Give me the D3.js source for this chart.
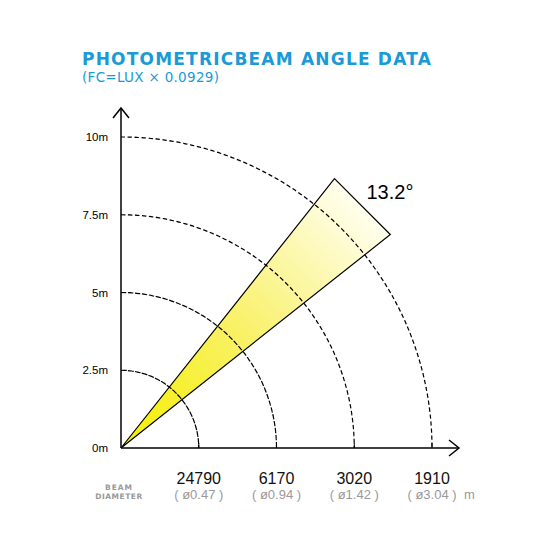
<!DOCTYPE html><html><head><meta charset="utf-8"><script src="https://cdn.jsdelivr.net/npm/d3@7"></script>
<style>body{margin:0;background:#fff}</style></head><body><svg id="c" width="550" height="550"></svg><script>
const distances=[2.5,5,7.5,10];
const yTicks=[0,2.5,5,7.5,10];
const yTickLabels=["0m","2.5m","5m","7.5m","10m"];
const lux=["24790","6170","3020","1910"];
const diam=["( ø0.47 )","( ø0.94 )","( ø1.42 )","( ø3.04 )"];
const beamAngle=13.2, beamLength=11.05;
const svg=d3.select("#c");
const ox=121, oy=448;
const r=d3.scaleLinear().domain([0,10]).range([0,311]);
const F="DejaVu Sans, Verdana, sans-serif";
const A="Liberation Sans, Arial, sans-serif";
svg.append("text").attr("x",82).attr("y",65).attr("font-family",F).attr("font-weight","bold").attr("font-size",17).attr("letter-spacing",1.2).attr("fill","#1a9ad6").text("PHOTOMETRICBEAM ANGLE DATA");
svg.append("text").attr("x",82).attr("y",82).attr("font-family",F).attr("font-size",13.5).attr("letter-spacing",0.3).attr("fill","#1a9ad6").text("(FC=LUX × 0.0929)");
const g=svg.append("g").attr("transform",`translate(${ox},${oy})`);
const defs=svg.append("defs");
const a1=(45-beamAngle/2)*Math.PI/180, a2=(45+beamAngle/2)*Math.PI/180, L=r(beamLength);
const grad=defs.append("linearGradient").attr("id","bg").attr("gradientUnits","userSpaceOnUse")
 .attr("x1",0).attr("y1",0).attr("x2",L*Math.cos(Math.PI/4)).attr("y2",-L*Math.sin(Math.PI/4));
grad.append("stop").attr("offset","0").attr("stop-color","#f5ef00");
grad.append("stop").attr("offset","0.5").attr("stop-color","#f9f16a");
grad.append("stop").attr("offset","1").attr("stop-color","#fffff0");
g.append("path").attr("d",`M0,0L${L*Math.cos(a2)},${-L*Math.sin(a2)}L${L*Math.cos(a1)},${-L*Math.sin(a1)}Z`)
 .attr("fill","url(#bg)").attr("stroke","#000").attr("stroke-width",1.2);
distances.forEach(d=>{
 g.append("path").attr("d",d3.arc()({innerRadius:r(d),outerRadius:r(d),startAngle:0,endAngle:Math.PI/2}))
  .attr("fill","none").attr("stroke","#000").attr("stroke-width",1.2).attr("stroke-dasharray","4,3");
});
g.append("line").attr("x1",0).attr("y1",0).attr("x2",338).attr("y2",0).attr("stroke","#000").attr("stroke-width",1.5);
g.append("line").attr("x1",0).attr("y1",0).attr("x2",0).attr("y2",-340).attr("stroke","#000").attr("stroke-width",1.5);
g.append("path").attr("d","M328,-8L338,0L328,8").attr("fill","none").attr("stroke","#000").attr("stroke-width",1.5);
g.append("path").attr("d","M-8,-330L0,-340L8,-330").attr("fill","none").attr("stroke","#000").attr("stroke-width",1.5);
distances.forEach(d=>g.append("line").attr("x1",r(d)).attr("x2",r(d)).attr("y1",0).attr("y2",-5).attr("stroke","#000"));
yTicks.forEach((t,i)=>g.append("text").attr("x",-13).attr("y",-r(t)+4).attr("text-anchor","end").attr("font-family",A).attr("font-size",11.5).text(yTickLabels[i]));
g.append("text").attr("x",L*Math.cos(a2)+32).attr("y",-L*Math.sin(a2)+20).attr("font-family",A).attr("font-size",20).text(beamAngle+"°");
distances.forEach((d,i)=>{
 g.append("text").attr("x",r(d)).attr("y",36).attr("text-anchor","middle").attr("font-family",A).attr("font-size",16).attr("fill","#111").text(lux[i]);
 g.append("text").attr("x",r(d)).attr("y",51).attr("text-anchor","middle").attr("font-family",A).attr("font-size",13).attr("fill","#999").text(diam[i]);
});
g.append("text").attr("x",343).attr("y",51).attr("font-family",A).attr("font-size",13).attr("fill","#999").text("m");
g.append("text").attr("x",-2).attr("y",42).attr("font-family",F).attr("font-size",7.5).attr("font-weight","bold").attr("fill","#999").attr("text-anchor","middle").attr("letter-spacing",1).text("BEAM");
g.append("text").attr("x",-2).attr("y",51).attr("font-family",F).attr("font-size",7.5).attr("font-weight","bold").attr("fill","#999").attr("text-anchor","middle").attr("letter-spacing",0.5).text("DIAMETER");
</script></body></html>
